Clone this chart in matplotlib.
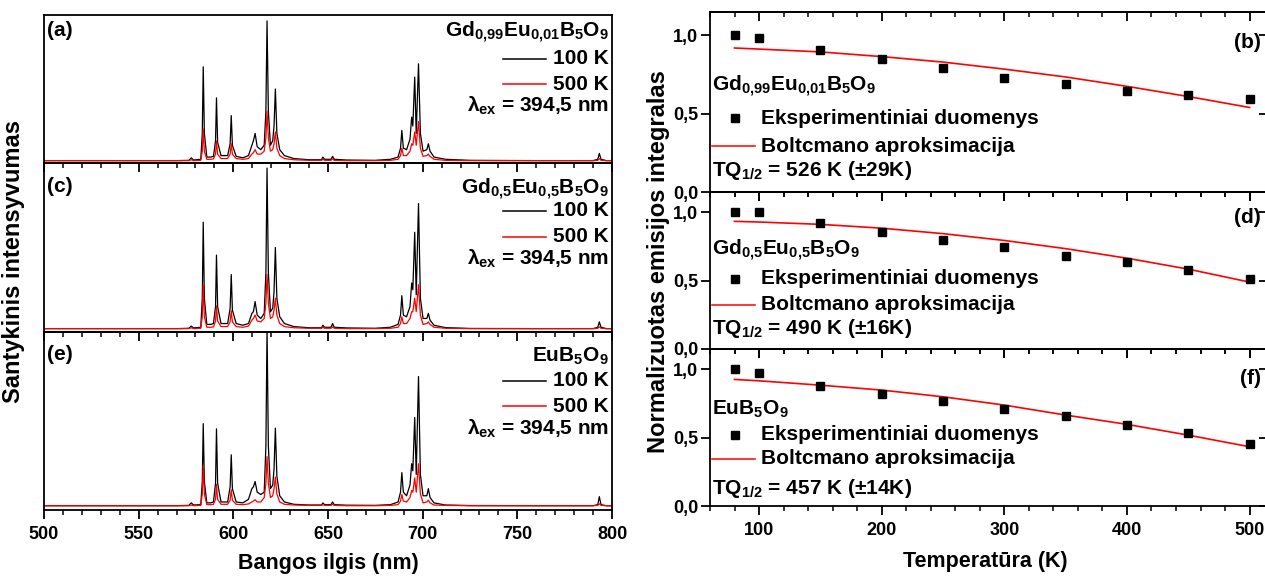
import matplotlib
matplotlib.use("Agg")
import matplotlib.pyplot as plt
from matplotlib.lines import Line2D
from matplotlib.ticker import MultipleLocator, FuncFormatter

W, H = 1265, 577

plt.rcParams.update({
    "font.family": ["Liberation Sans", "DejaVu Sans"],
    "font.weight": "bold",
    "mathtext.fontset": "custom",
    "mathtext.rm": "Liberation Sans:bold",
    "mathtext.it": "Liberation Sans:bold",
    "mathtext.bf": "Liberation Sans:bold",
    "axes.linewidth": 1.3,
})

# --- spectra (nm, relative intensity, each panel scaled to its own frame) ---
WL = [500, 570, 576.5, 577.8, 579, 582.8, 583.6, 584.1, 584.7, 586,
      588, 589.5, 590.6, 591.1, 591.7, 593.5, 597, 598.3, 598.9, 599.5,
      601.5, 605, 608, 609.8, 610.6, 611.5, 612.6, 614.5, 616.3, 617.2,
      617.8, 618.5, 619.6, 620.8, 621.5, 622.2, 623, 624.5, 627, 632,
      640, 646.6, 647.3, 648.2, 651.6, 652.4, 653.3, 660, 675, 683,
      687, 688.3, 689, 689.8, 691.5, 693.3, 694.2, 694.8, 695.8, 696.6,
      697.8, 698.8, 700.2, 702.2, 703, 703.9, 706, 712, 725, 760,
      790, 792.5, 793.3, 794.2, 797, 800]

A_100K = [0.016, 0.016, 0.018, 0.035, 0.02, 0.025, 0.2, 0.65, 0.2, 0.04,
          0.04, 0.045, 0.15, 0.44, 0.14, 0.05, 0.05, 0.13, 0.32, 0.12,
          0.045, 0.035, 0.05, 0.12, 0.15, 0.2, 0.11, 0.09, 0.12, 0.35,
          0.96, 0.35, 0.12, 0.15, 0.25, 0.5, 0.2, 0.09, 0.05, 0.03,
          0.022, 0.022, 0.04, 0.025, 0.025, 0.045, 0.025, 0.02, 0.018, 0.025,
          0.04, 0.1, 0.22, 0.1, 0.09, 0.16, 0.31, 0.25, 0.58, 0.2,
          0.67, 0.2, 0.08, 0.09, 0.13, 0.08, 0.04, 0.025, 0.018, 0.016,
          0.016, 0.025, 0.065, 0.025, 0.016, 0.016]
A_500K = [0.016, 0.016, 0.016, 0.022, 0.016, 0.018, 0.08, 0.23, 0.08, 0.025,
          0.025, 0.028, 0.06, 0.15, 0.06, 0.03, 0.03, 0.06, 0.13, 0.06,
          0.03, 0.025, 0.03, 0.06, 0.07, 0.09, 0.06, 0.06, 0.08, 0.17,
          0.35, 0.17, 0.08, 0.09, 0.13, 0.21, 0.1, 0.05, 0.03, 0.022,
          0.018, 0.018, 0.025, 0.018, 0.018, 0.028, 0.018, 0.016, 0.016, 0.018,
          0.025, 0.05, 0.1, 0.05, 0.05, 0.08, 0.13, 0.12, 0.21, 0.12,
          0.28, 0.1, 0.045, 0.05, 0.06, 0.045, 0.025, 0.018, 0.016, 0.016,
          0.016, 0.018, 0.03, 0.018, 0.016, 0.016]

C_100K = [0.02, 0.02, 0.022, 0.035, 0.024, 0.028, 0.2, 0.65, 0.2, 0.045,
          0.045, 0.05, 0.15, 0.455, 0.15, 0.05, 0.05, 0.14, 0.34, 0.13,
          0.05, 0.04, 0.05, 0.11, 0.12, 0.18, 0.1, 0.08, 0.11, 0.35,
          0.97, 0.35, 0.12, 0.14, 0.24, 0.5, 0.2, 0.09, 0.05, 0.032,
          0.025, 0.025, 0.04, 0.028, 0.028, 0.05, 0.028, 0.024, 0.022, 0.028,
          0.045, 0.1, 0.215, 0.1, 0.09, 0.15, 0.29, 0.25, 0.59, 0.22,
          0.76, 0.2, 0.08, 0.08, 0.11, 0.07, 0.04, 0.026, 0.021, 0.02,
          0.02, 0.028, 0.06, 0.028, 0.02, 0.02]
C_500K = [0.02, 0.02, 0.02, 0.025, 0.02, 0.022, 0.09, 0.28, 0.09, 0.028,
          0.028, 0.03, 0.065, 0.155, 0.065, 0.032, 0.032, 0.06, 0.126, 0.06,
          0.032, 0.028, 0.035, 0.07, 0.08, 0.1, 0.065, 0.06, 0.08, 0.17,
          0.34, 0.17, 0.08, 0.09, 0.13, 0.2, 0.1, 0.05, 0.032, 0.025,
          0.022, 0.022, 0.028, 0.022, 0.022, 0.03, 0.022, 0.02, 0.02, 0.022,
          0.028, 0.05, 0.09, 0.05, 0.05, 0.08, 0.12, 0.12, 0.2, 0.12,
          0.28, 0.1, 0.045, 0.05, 0.06, 0.045, 0.028, 0.022, 0.02, 0.02,
          0.02, 0.022, 0.03, 0.022, 0.02, 0.02]

E_100K = [0.024, 0.024, 0.026, 0.04, 0.028, 0.03, 0.16, 0.485, 0.16, 0.04,
          0.04, 0.045, 0.15, 0.456, 0.15, 0.045, 0.045, 0.13, 0.31, 0.12,
          0.045, 0.04, 0.06, 0.12, 0.13, 0.16, 0.1, 0.087, 0.1, 0.36,
          1.02, 0.36, 0.12, 0.14, 0.23, 0.46, 0.19, 0.08, 0.045, 0.032,
          0.028, 0.028, 0.04, 0.03, 0.03, 0.045, 0.03, 0.027, 0.026, 0.03,
          0.045, 0.1, 0.21, 0.1, 0.08, 0.14, 0.26, 0.22, 0.52, 0.2,
          0.75, 0.2, 0.08, 0.08, 0.12, 0.07, 0.04, 0.028, 0.025, 0.024,
          0.024, 0.03, 0.075, 0.03, 0.024, 0.024]
E_500K = [0.024, 0.024, 0.024, 0.028, 0.024, 0.026, 0.09, 0.25, 0.09, 0.03,
          0.03, 0.032, 0.06, 0.144, 0.06, 0.032, 0.032, 0.055, 0.113, 0.055,
          0.032, 0.03, 0.034, 0.045, 0.05, 0.058, 0.045, 0.045, 0.07, 0.15,
          0.3, 0.15, 0.07, 0.08, 0.12, 0.185, 0.09, 0.045, 0.032, 0.028,
          0.026, 0.026, 0.03, 0.026, 0.026, 0.032, 0.026, 0.024, 0.024, 0.026,
          0.03, 0.05, 0.087, 0.05, 0.045, 0.07, 0.11, 0.1, 0.18, 0.1,
          0.26, 0.09, 0.04, 0.045, 0.055, 0.04, 0.028, 0.026, 0.024, 0.024,
          0.024, 0.026, 0.035, 0.026, 0.024, 0.024]

# --- thermal quenching (K, normalized integral) ---
T_K = [80, 100, 150, 200, 250, 300, 350, 400, 450, 500]
B_EXP = [1.0, 0.987, 0.905, 0.848, 0.79, 0.726, 0.688, 0.643, 0.618, 0.592]
B_FIT = [0.92, 0.913, 0.895, 0.865, 0.83, 0.785, 0.735, 0.675, 0.61, 0.54]
D_EXP = [1.0, 1.0, 0.92, 0.86, 0.8, 0.75, 0.68, 0.64, 0.58, 0.51]
D_FIT = [0.935, 0.93, 0.913, 0.885, 0.845, 0.795, 0.735, 0.665, 0.585, 0.49]
F_EXP = [1.0, 0.975, 0.878, 0.819, 0.766, 0.71, 0.656, 0.593, 0.532, 0.454]
F_FIT = [0.927, 0.917, 0.885, 0.849, 0.8, 0.739, 0.666, 0.598, 0.519, 0.434]

SAMPLES = [r"Gd$_{0{,}99}$Eu$_{0{,}01}$B$_5$O$_9$",
           r"Gd$_{0{,}5}$Eu$_{0{,}5}$B$_5$O$_9$",
           r"EuB$_5$O$_9$"]
TQ = [r"TQ$_{1/2}$ = 526 K (±29K)",
      r"TQ$_{1/2}$ = 490 K (±16K)",
      r"TQ$_{1/2}$ = 457 K (±14K)"]

fig = plt.figure(figsize=(W / 100, H / 100), dpi=100)


def px_axes(x0, y0, x1, y1):
    ax = fig.add_axes([x0 / W, 1 - y1 / H, (x1 - x0) / W, (y1 - y0) / H])
    ax.patch.set_visible(False)
    return ax


def ptext(px, py, s, **kw):
    kw.setdefault("va", "center")
    kw.setdefault("fontsize", 15)
    fig.text(px / W, 1 - py / H, s, **kw)


def pline(x0, x1, py, color):
    fig.add_artist(Line2D([x0 / W, x1 / W], [1 - py / H] * 2,
                          transform=fig.transFigure, color=color, lw=1.1))


# left: emission spectra
left_rows = [(15, 163), (163, 332), (332, 510)]
spectra = [(A_100K, A_500K), (C_100K, C_500K), (E_100K, E_500K)]
letters_l = ["(a)", "(c)", "(e)"]
# y of: letter/sample, 100 K, 500 K, lambda
text_y_l = [(32, 59, 84, 106), (189, 211, 237, 259), (356, 381, 406, 429)]

for i, ((top, bot), (i100, i500)) in enumerate(zip(left_rows, spectra)):
    ax = px_axes(44, top, 612, bot)
    ax.plot(WL, i100, color="black", lw=0.9)
    ax.plot(WL, i500, color="red", lw=0.9)
    ax.set_xlim(500, 800)
    ax.set_ylim(0, 1)
    ax.set_yticks([])
    ax.xaxis.set_major_locator(MultipleLocator(50))
    ax.xaxis.set_minor_locator(MultipleLocator(10))
    ax.tick_params(axis="x", which="major", direction="out", length=6.5, width=1.3,
                   labelsize=13, pad=5)
    ax.tick_params(axis="x", which="minor", direction="out", length=3.5, width=1.1)
    if i < 2:
        ax.tick_params(axis="x", labelbottom=False)
    ly, y100, y500, ylam = text_y_l[i]
    ptext(47, ly - 2, letters_l[i], ha="left")
    ptext(609, ly, SAMPLES[i], ha="right")
    pline(503, 546, y100, "black")
    ptext(609, y100, "100 K", ha="right")
    pline(503, 546, y500, "red")
    ptext(609, y500, "500 K", ha="right")
    ptext(609, ylam, r"$λ_{ex}$ = 394,5 nm", ha="right")

# right: thermal quenching
right_rows = [(12, 192), (192, 349), (349, 506)]
tq_data = [(B_EXP, B_FIT), (D_EXP, D_FIT), (F_EXP, F_FIT)]
letters_r = ["(b)", "(d)", "(f)"]
letter_y_r = [42, 218, 378]
# y of: sample, experiment, fit, TQ
text_y_r = [(86, 118, 146, 171), (250, 279, 305, 328), (409, 435, 459, 489)]
comma = FuncFormatter(lambda v, p: f"{v:.1f}".replace(".", ","))

for i, ((top, bot), (exp_v, fit_v)) in enumerate(zip(right_rows, tq_data)):
    ax = px_axes(710, top, 1268, bot)
    ax.plot(T_K, fit_v, color="red", lw=1.2)
    ax.plot(T_K, exp_v, "s", color="black", ms=5.5)
    ax.set_xlim(60, 515)
    ax.set_ylim(0, 1.15)
    ax.set_yticks([0, 0.5, 1.0])
    ax.yaxis.set_major_formatter(comma)
    ax.xaxis.set_major_locator(MultipleLocator(100))
    ax.xaxis.set_minor_locator(MultipleLocator(20))
    ax.tick_params(which="major", direction="out", length=6.5, width=1.3,
                   labelsize=13, pad=2)
    ax.tick_params(axis="x", which="minor", direction="out", length=3.5, width=1.1)
    ax.tick_params(axis="x", pad=5)
    if i < 2:
        ax.tick_params(axis="x", labelbottom=False)
    sx = ax.secondary_xaxis("top")
    sx.xaxis.set_major_locator(MultipleLocator(100))
    sx.xaxis.set_minor_locator(MultipleLocator(20))
    sx.tick_params(which="major", direction="in", length=6.5, width=1.3, labeltop=False)
    sx.tick_params(which="minor", direction="in", length=3.5, width=1.1)
    sy = ax.secondary_yaxis("right")
    sy.set_yticks([0, 0.5, 1.0])
    sy.tick_params(direction="in", length=6.5, width=1.3, labelright=False)

    sy_, ey, fy, ty = text_y_r[i]
    ptext(1261, letter_y_r[i], letters_r[i], ha="right")
    ptext(712, sy_, SAMPLES[i], ha="left")
    fig.add_artist(Line2D([735 / W], [1 - ey / H], transform=fig.transFigure,
                          marker="s", color="black", ms=5.5, lw=0))
    ptext(761, ey, "Eksperimentiniai duomenys", ha="left")
    pline(712, 755, fy, "red")
    ptext(761, fy, "Boltcmano aproksimacija", ha="left")
    ptext(712, ty, TQ[i], ha="left")

# axis titles
ptext(328, 563, "Bangos ilgis (nm)", ha="center", fontsize=15.5)
ptext(985, 562, "Temperatūra (K)", ha="center", fontsize=15.5)
ptext(14, 262, "Santykinis intensyvumas", ha="center", rotation=90, fontsize=17)
ptext(658, 262, "Normalizuotas emisijos integralas", ha="center", rotation=90,
      fontsize=17)

fig.savefig("out.png", dpi=100)
